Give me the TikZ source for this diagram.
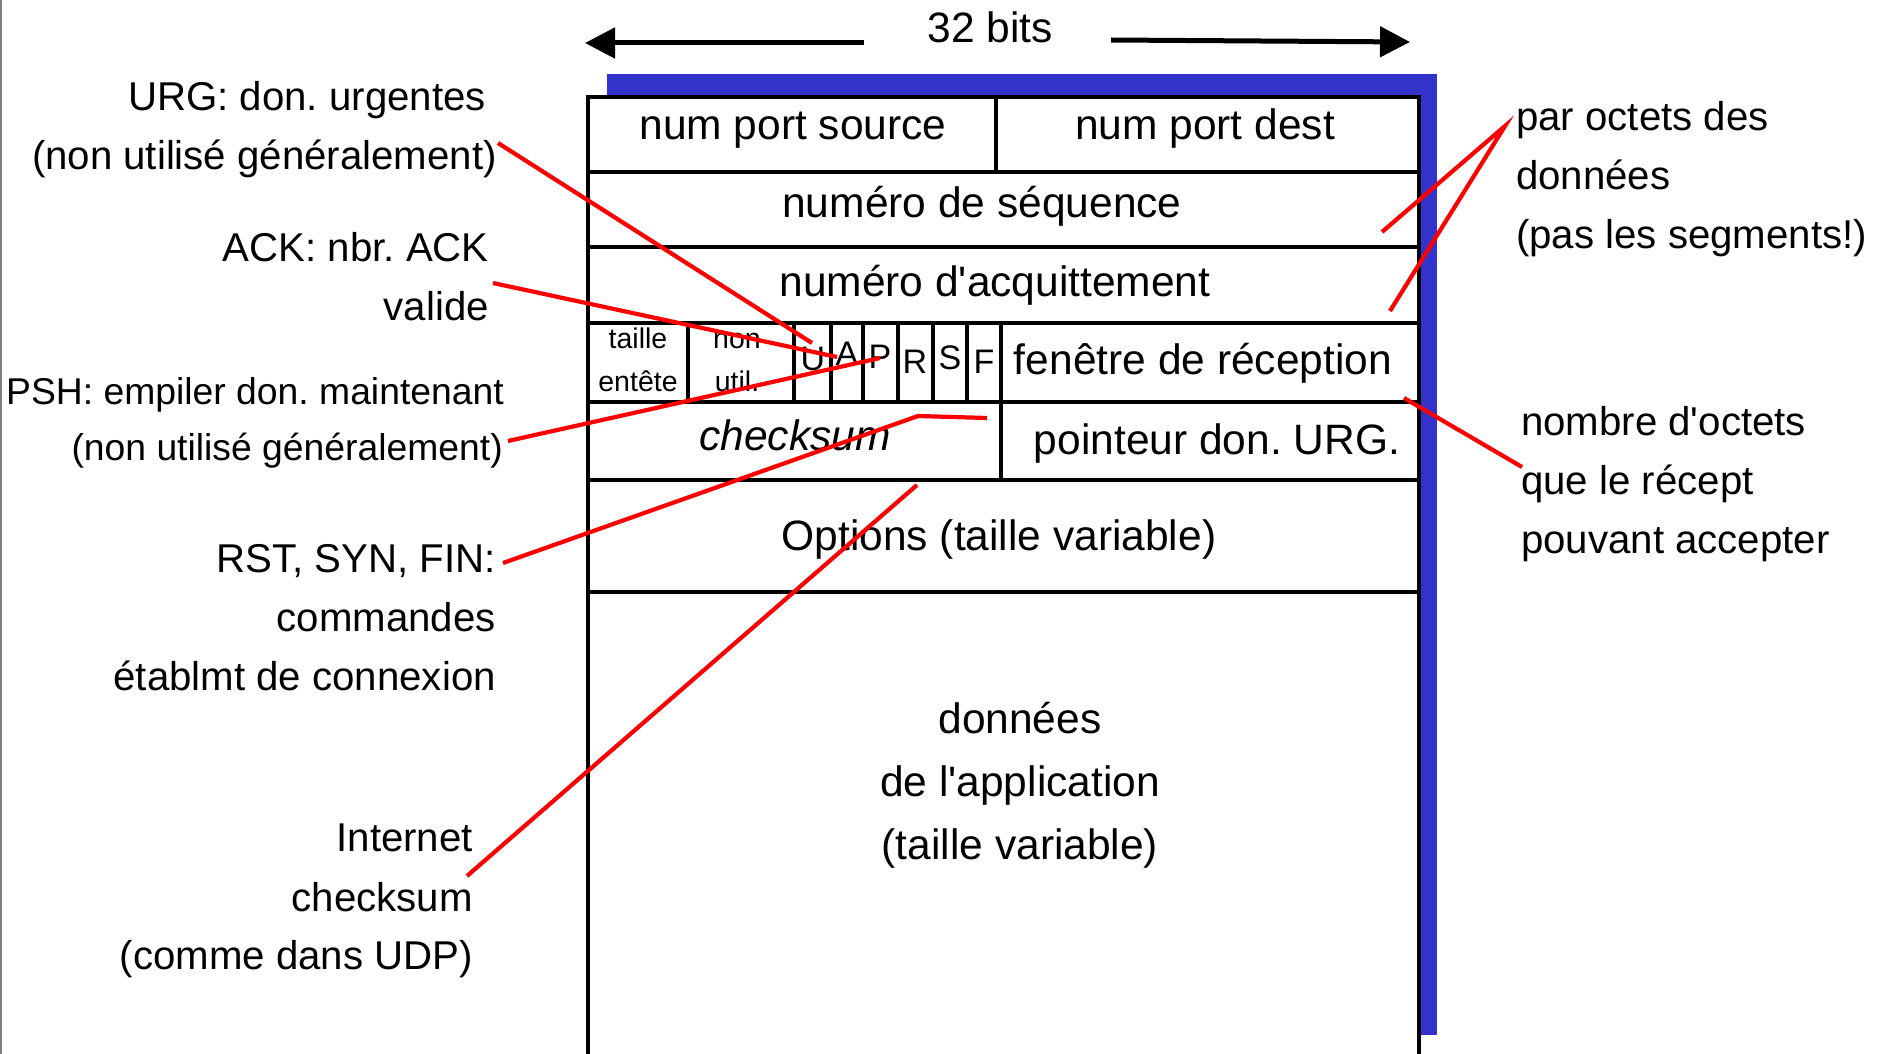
\documentclass[tikz,border=0pt]{standalone}
\usepackage{fontspec}
\setmainfont{Liberation Sans}
\usetikzlibrary{arrows.meta}
\definecolor{shadowblue}{RGB}{51,51,204}
\definecolor{callred}{RGB}{255,0,0}
\newcommand{\apos}{\textquotesingle}
\tikzset{
  gridline/.style={line width=3.5pt, black},
  callout/.style={line width=4.2pt, callred},
  bigtxt/.style={inner sep=0pt, font=\fontsize{42.5}{50}\selectfont, text height=30.6pt, text depth=0pt},
  sidetxt/.style={inner sep=0pt, font=\fontsize{40.2}{47}\selectfont, text height=28.8pt, text depth=0pt},
  sidesmall/.style={inner sep=0pt, font=\fontsize{37.3}{44}\selectfont, text height=26.8pt, text depth=0pt},
  smalltxt/.style={inner sep=0pt, font=\fontsize{28.5}{34}\selectfont, text height=20.5pt, text depth=0pt},
  flagtxt/.style={inner sep=0pt, font=\fontsize{34}{40}\selectfont, text height=24.4pt, text depth=0pt},
}
\begin{document}
\frenchspacing
\begin{tikzpicture}[x=1pt, y=-1pt]
\useasboundingbox (0,0) rectangle (1882,1054);
\fill[white] (0,0) rectangle (1882,1054);
\draw[gray, line width=2pt] (1,0) -- (1,1054);

% 32 bits arrow
\node[bigtxt] (bits) at (990,27) {32 bits};
\coordinate (lstart) at (864,43);
\coordinate (ltip) at (585,43);
\coordinate (rstart) at (1111,40);
\coordinate (rtip) at (1410,42);
\draw[line width=5pt, -{Triangle[length=30pt,width=30pt]}] (lstart) -- (ltip);
\draw[line width=5pt, -{Triangle[length=30pt,width=30pt]}] (rstart) -- (rtip);

% shadow and box
\fill[shadowblue] (607,74) rectangle (1437,1035);
\fill[white] (588,97) rectangle (1419,1060);
\draw[gridline] (588,1060) -- (588,97) -- (1419,97) -- (1419,1060);
\foreach \yy in {172,247,323,402,480,592}
  \draw[gridline] (588,\yy) -- (1419,\yy);
\draw[gridline] (996,97) -- (996,172);
\foreach \xx in {688,794,831,863,898,933,967,1001}
  \draw[gridline] (\xx,323) -- (\xx,402);
\draw[gridline] (1001,402) -- (1001,480);

% field texts
\node[bigtxt] (srcport) at (793,124) {num port source};
\node[bigtxt] (dstport) at (1205,124) {num port dest};
\node[bigtxt] (seqnum) at (982,202) {numéro de séquence};
\node[bigtxt] (acknum) at (995,281) {numéro d\apos acquittement};
\node[smalltxt] (hl1) at (638,338) {taille};
\node[smalltxt] (hl2) at (638,381) {entête};
\node[smalltxt] (nu1) at (737,338) {non};
\node[smalltxt] (nu2) at (737,381) {util.};
\node[flagtxt] (fu) at (813,358) {U};
\node[flagtxt] (fa) at (847,353) {A};
\node[flagtxt] (fp) at (880,356) {P};
\node[flagtxt] (fr) at (915,361) {R};
\node[flagtxt] (fs) at (950,357) {S};
\node[flagtxt] (ff) at (984,361) {F};
\node[bigtxt] (win) at (1203,359) {fenêtre de réception};
\node[bigtxt, font=\fontsize{42.5}{50}\selectfont\itshape] (cks) at (795,435) {checksum};
\node[bigtxt] (urgp) at (1217,439) {pointeur don. URG.};
\node[bigtxt] (opts) at (999,535) {Options (taille variable)};
\node[bigtxt] (data1) at (1020,718) {données};
\node[bigtxt] (data2) at (1020,781) {de l\apos application};
\node[bigtxt] (data3) at (1020,844) {(taille variable)};

% left labels
\node[sidetxt, anchor=east] (urg1) at (486,96) {URG: don. urgentes};
\node[sidetxt, anchor=east] (urg2) at (497,155) {(non utilisé généralement)};
\node[sidetxt, anchor=east] (ack1) at (489,247) {ACK: nbr. ACK};
\node[sidetxt, anchor=east] (ack2) at (489,306) {valide};
\node[sidesmall, anchor=east] (psh1) at (504,391) {PSH: empiler don. maintenant};
\node[sidesmall, anchor=east] (psh2) at (503,447) {(non utilisé généralement)};
\node[sidetxt, anchor=east] (rst1) at (496,558) {RST, SYN, FIN:};
\node[sidetxt, anchor=east] (rst2) at (496,617) {commandes};
\node[sidetxt, anchor=east] (rst3) at (496,676) {établmt de connexion};
\node[sidetxt, anchor=east] (int1) at (473,837) {Internet};
\node[sidetxt, anchor=east] (int2) at (473,897) {checksum};
\node[sidetxt, anchor=east] (int3) at (473,955) {(comme dans UDP)};

% right labels
\node[sidetxt, anchor=west] (par1) at (1516,116) {par octets des};
\node[sidetxt, anchor=west] (par2) at (1516,175) {données};
\node[sidetxt, anchor=west] (par3) at (1516,234) {(pas les segments!)};
\node[sidetxt, anchor=west] (nom1) at (1521,421) {nombre d\apos octets};
\node[sidetxt, anchor=west] (nom2) at (1521,480) {que le récept};
\node[sidetxt, anchor=west] (nom3) at (1521,539) {pouvant accepter};

% callout coordinates
\coordinate (urgS) at (498,143);  \coordinate (urgE) at (812,343);
\coordinate (ackS) at (493,283);  \coordinate (ackE) at (837,357);
\coordinate (pshS) at (508,441);  \coordinate (pshE) at (880,358);
\coordinate (rstS) at (503,563);  \coordinate (rstM) at (918,416); \coordinate (rstE) at (987,418);
\coordinate (intS) at (467,876);  \coordinate (intE) at (917,485);
\coordinate (parV) at (1505,126); \coordinate (parA) at (1382,232); \coordinate (parB) at (1390,311);
\coordinate (nomS) at (1522,467); \coordinate (nomE) at (1404,398);

\draw[callout] (urgS) -- (urgE);
\draw[callout] (ackS) -- (ackE);
\draw[callout] (pshS) -- (pshE);
\draw[callout] (rstS) -- (rstM) -- (rstE);
\draw[callout] (intS) -- (intE);
\draw[callout] (parA) -- (parV) -- (parB);
\draw[callout] (nomS) -- (nomE);
\end{tikzpicture}
\end{document}
